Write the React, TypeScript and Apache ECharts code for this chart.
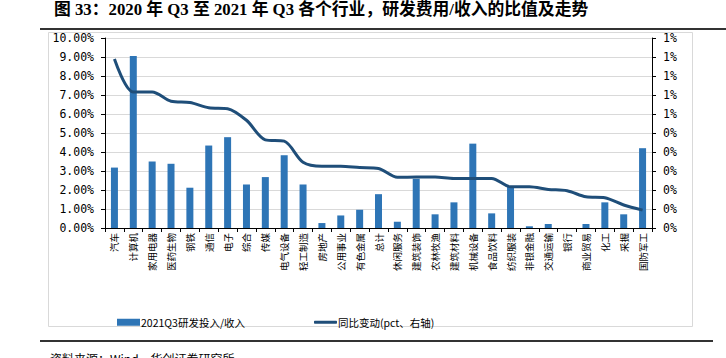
import React, { useEffect, useRef } from "react";
import * as echarts from "echarts";

const categories = ["汽车", "计算机", "家用电器", "医药生物", "钢铁", "通信", "电子", "综合", "传媒", "电气设备", "轻工制造", "房地产", "公用事业", "有色金属", "总计", "休闲服务", "建筑装饰", "农林牧渔", "建筑材料", "机械设备", "食品饮料", "纺织服装", "非银金融", "交通运输", "银行", "商业贸易", "化工", "采掘", "国防军工"];

const rdRatio = [3.18, 9.05, 3.5, 3.38, 2.12, 4.34, 4.78, 2.29, 2.68, 3.83, 2.29, 0.26, 0.66, 0.96, 1.78, 0.33, 2.59, 0.72, 1.35, 4.44, 0.77, 2.17, 0.09, 0.21, 0.0, 0.21, 1.35, 0.72, 4.2];

const yoyChange = [0.889, 0.716, 0.716, 0.667, 0.66, 0.633, 0.628, 0.567, 0.464, 0.457, 0.346, 0.325, 0.325, 0.318, 0.313, 0.267, 0.268, 0.268, 0.261, 0.261, 0.261, 0.217, 0.217, 0.203, 0.196, 0.164, 0.159, 0.121, 0.094];

const rightTickLabels = ["0%", "0%", "0%", "0%", "0%", "0%", "1%", "1%", "1%", "1%", "1%"];

const title = "图 33：2020 年 Q3 至 2021 年 Q3 各个行业，研发费用/收入的比值及走势";
const source = "资料来源：Wind，华创证券研究所";
const barName = "2021Q3研发投入/收入";
const lineName = "同比变动(pct、右轴)";

export default function App() {
  const ref = useRef<HTMLDivElement>(null);
  useEffect(() => {
    if (!ref.current) return;
    const chart = echarts.init(ref.current, null, { renderer: "svg" });
    const cjk = "'Noto Sans CJK SC', sans-serif";
    chart.setOption({
      animation: false,
      backgroundColor: "#fff",
      title: {
        text: title,
        left: 54,
        top: 1,
        padding: 0,
        textStyle: {
          fontFamily: "'Liberation Serif', 'Noto Sans CJK SC', serif",
          fontWeight: "bold",
          fontSize: 16.8,
          color: "#000",
        },
      },
      graphic: [
        { type: "line", shape: { x1: 40, y1: 29, x2: 726, y2: 29 }, style: { stroke: "#333", lineWidth: 2 } },
        { type: "rect", shape: { x: 48.5, y: 32.5, width: 644, height: 294 }, style: { fill: "none", stroke: "#D9D9D9", lineWidth: 1 }, z: -1 },
        { type: "line", shape: { x1: 40, y1: 341, x2: 713, y2: 341 }, style: { stroke: "#333", lineWidth: 2 } },
        {
          type: "text",
          x: 50,
          y: 352,
          style: {
            text: source,
            fontFamily: cjk,
            fontSize: 12,
            fill: "#000",
            textAlign: "left",
            textVerticalAlign: "top",
          },
        },
      ],
      legend: [
        {
          data: [barName],
          left: 112,
          top: 312,
          icon: "rect",
          itemWidth: 23,
          itemHeight: 7,
          textStyle: { fontFamily: cjk, fontSize: 10.5, color: "#000", padding: [0, 0, 0, -4] },
        },
        {
          data: [lineName],
          left: 309,
          top: 312,
          icon: "roundRect",
          itemWidth: 23,
          itemHeight: 3,
          textStyle: { fontFamily: cjk, fontSize: 10.5, color: "#000", padding: [0, 0, 0, -4] },
        },
      ],
      grid: { left: 105, right: 74, top: 38, bottom: 130 },
      xAxis: {
        type: "category",
        data: categories,
        axisLine: { lineStyle: { color: "#000", width: 1 } },
        axisTick: { show: true, length: 4, lineStyle: { color: "#000" } },
        axisLabel: { interval: 0, rotate: 90, margin: 5, fontSize: 9.5, fontFamily: cjk, color: "#000" },
      },
      yAxis: [
        {
          type: "value",
          min: 0,
          max: 10,
          interval: 1,
          axisLine: { show: true, lineStyle: { color: "#000" } },
          axisTick: { show: true, length: 4, lineStyle: { color: "#000" } },
          splitLine: { lineStyle: { color: "#D9D9D9", width: 1 } },
          axisLabel: {
            formatter: (v: number) => v.toFixed(2) + "%",
            fontFamily: "'DejaVu Sans Mono', monospace",
            fontSize: 11.5,
            color: "#000",
            margin: 11,
          },
        },
        {
          type: "value",
          min: 0,
          max: 1,
          interval: 0.1,
          axisLine: { show: true, lineStyle: { color: "#000" } },
          axisTick: { show: true, length: 4, lineStyle: { color: "#000" } },
          splitLine: { show: false },
          axisLabel: {
            formatter: (v: number) => rightTickLabels[Math.round(v * 10)],
            fontFamily: "'DejaVu Sans Mono', monospace",
            fontSize: 11.5,
            color: "#000",
            margin: 11,
          },
        },
      ],
      series: [
        {
          name: barName,
          type: "bar",
          data: rdRatio,
          barWidth: 7,
          itemStyle: { color: "#2E75B6" },
          yAxisIndex: 0,
        },
        {
          name: lineName,
          type: "line",
          data: yoyChange,
          yAxisIndex: 1,
          smooth: 0.3,
          symbol: "none",
          lineStyle: { color: "#1F4E79", width: 3 },
          itemStyle: { color: "#1F4E79" },
        },
      ],
    });
    return () => chart.dispose();
  }, []);
  return <div ref={ref} style={{ position: "fixed", left: 0, top: 0, width: 726, height: 358 }} />;
}
